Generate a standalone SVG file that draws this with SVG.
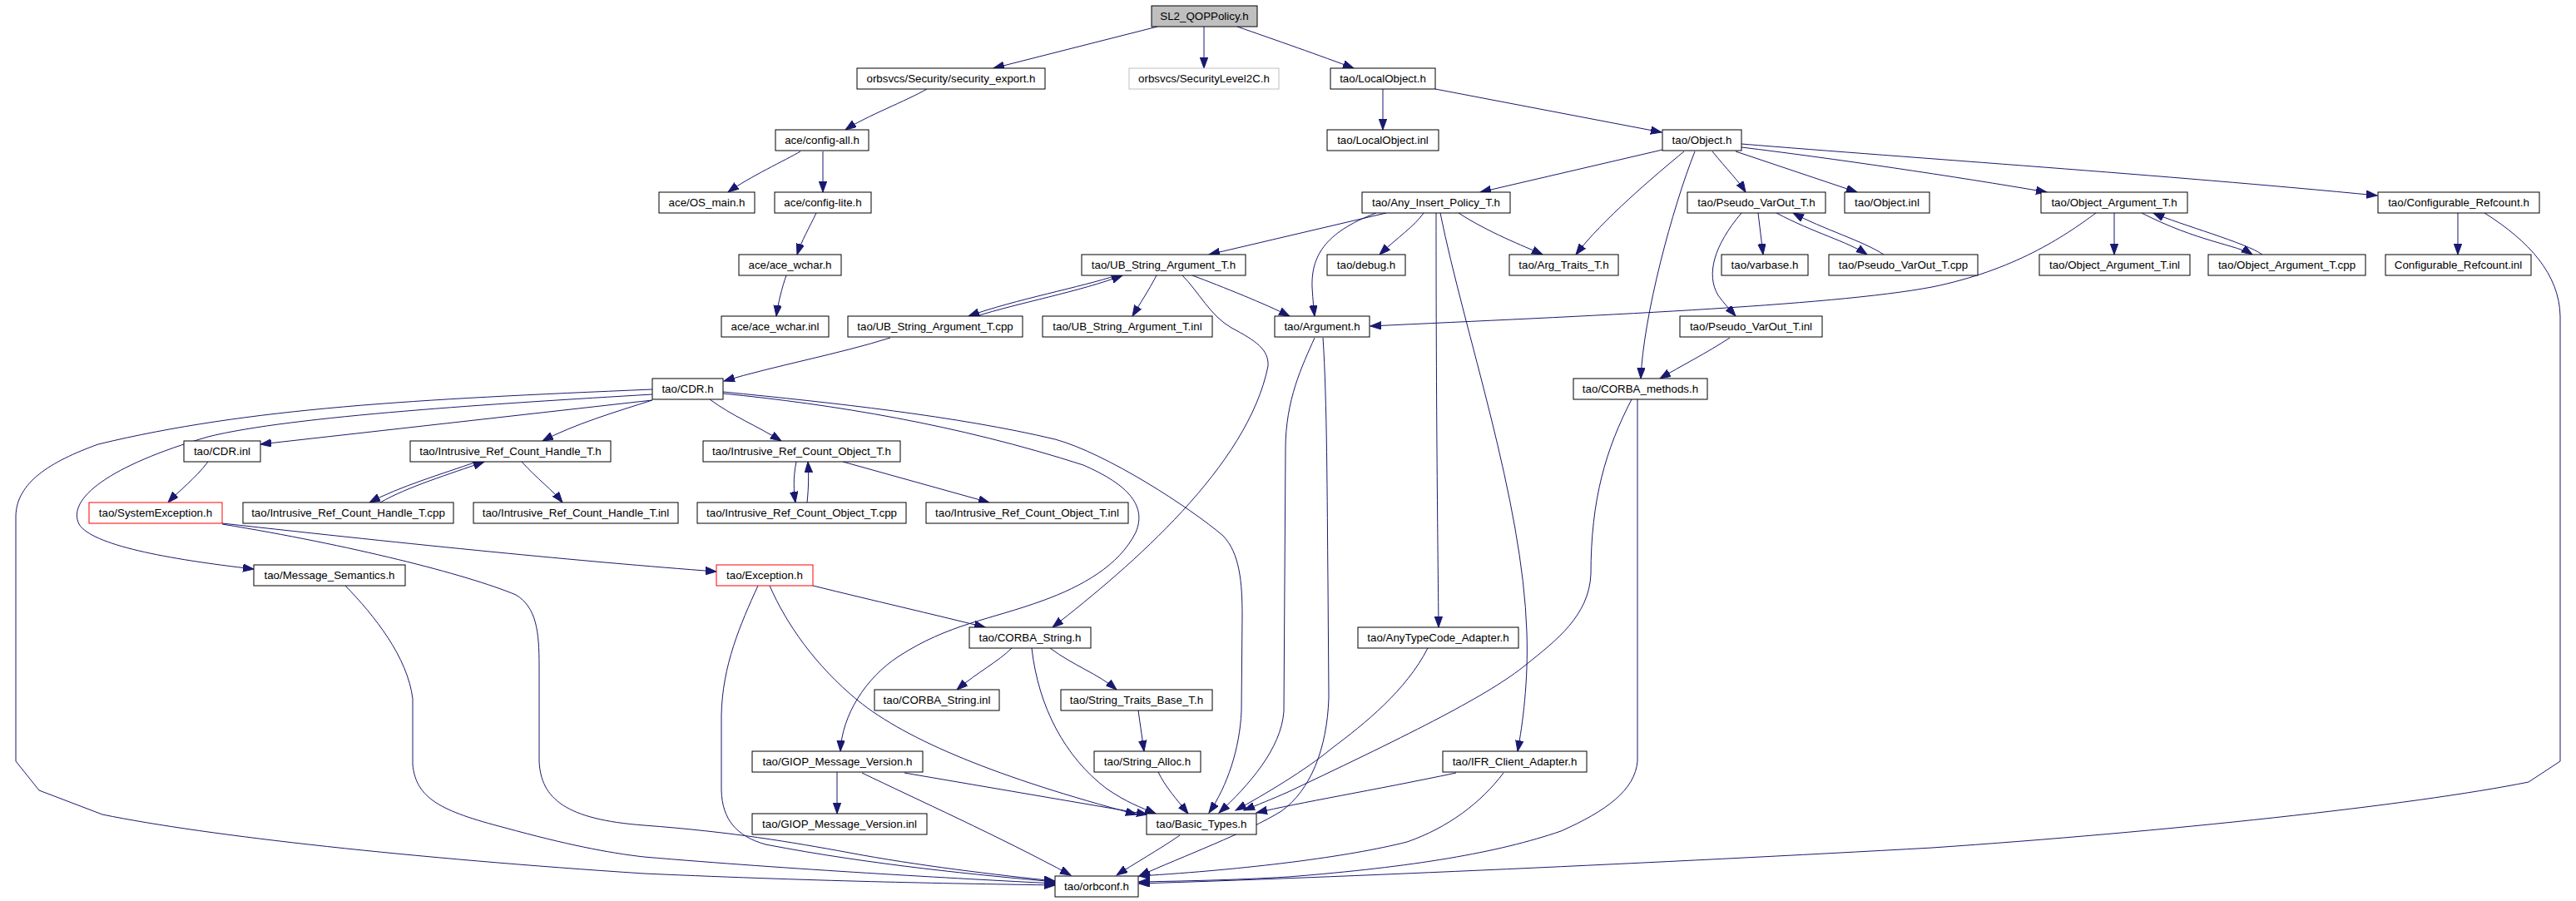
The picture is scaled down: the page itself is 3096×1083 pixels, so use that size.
<svg xmlns="http://www.w3.org/2000/svg" width="3096" height="1083" viewBox="0 0 3096 1083">
<style>
.n rect{fill:#ffffff;stroke:#000000;stroke-width:1}
.n text{font-family:"Liberation Sans",Arial,sans-serif;font-size:13.33px;fill:#000000;text-anchor:middle}
.e path{fill:none;stroke:#191970;stroke-width:1;marker-end:url(#a)}
</style>
<defs>
<marker id="a" markerUnits="userSpaceOnUse" markerWidth="14" markerHeight="10" refX="13" refY="4.7" orient="auto">
<path d="M0,0 L13,4.7 L0,9.4 Z" fill="#191970" stroke="#191970" stroke-width="1"/>
</marker>
</defs>
<rect width="3096" height="1083" fill="#ffffff"/>
<g id="edges" class="e">
<path d="M1391,32 L1194,82"/>
<path d="M1447,32 L1447,82"/>
<path d="M1487,32 C1530,47 1590,68 1627,82"/>
<path d="M1114,107 C1090,121 1040,140 1016,156"/>
<path d="M962,182 C945,192 900,213 875,231"/>
<path d="M989,182 L989,231"/>
<path d="M981,256 C973,273 963,290 958,306"/>
<path d="M945,331 C940,345 935,365 933,380"/>
<path d="M1662,107 L1662,156"/>
<path d="M1725,107 L1997,159"/>
<path d="M1998,180 L1779,231"/>
<path d="M2024,182 C1990,210 1925,265 1894,306"/>
<path d="M2037,182 C2010,250 1975,380 1972,455"/>
<path d="M2058,182 C2075,203 2090,218 2098,231"/>
<path d="M2086,182 L2232,231"/>
<path d="M2093,177 C2200,190 2350,212 2460,231"/>
<path d="M2093,173 C2300,190 2600,210 2857,235"/>
<path d="M1666,256 L1453,306"/>
<path d="M1711,256 C1700,272 1680,285 1658,306"/>
<path d="M1753,256 C1790,280 1830,295 1854,306"/>
<path d="M1654,256 C1590,280 1576,310 1577,345 C1578,362 1579,372 1580,380"/>
<path d="M1726,256 C1726,500 1728,650 1729,754"/>
<path d="M1731,256 C1760,400 1830,600 1835,760 C1837,820 1830,870 1824,903"/>
<path d="M2113,256 L2119,306"/>
<path d="M2135,256 C2180,280 2220,290 2244,306"/>
<path d="M2264,306 C2240,290 2190,275 2155,256"/>
<path d="M2093,256 C2060,295 2050,330 2065,355 C2073,366 2080,373 2086,380"/>
<path d="M2541,256 L2541,306"/>
<path d="M2574,256 C2640,290 2690,295 2707,306"/>
<path d="M2719,306 C2700,292 2620,270 2588,256"/>
<path d="M2519,256 C2480,285 2420,325 2322,345 C2200,368 1900,380 1647,392"/>
<path d="M2954,256 L2954,306"/>
<path d="M2986,256 C3040,290 3076,330 3077,380 L3077,915 L3039,940 C2900,968 2600,1000 2322,1019 C2000,1037 1600,1055 1369,1062"/>
<path d="M1342,331 C1300,345 1220,360 1164,380"/>
<path d="M1174,380 C1220,365 1300,350 1349,331"/>
<path d="M1390,331 C1380,350 1370,365 1361,380"/>
<path d="M1433,331 C1470,345 1520,365 1550,380"/>
<path d="M1421,331 C1440,350 1455,380 1480,394 C1510,410 1525,420 1524,440 C1500,560 1360,680 1265,754"/>
<path d="M1070,406 C1010,425 930,440 870,458"/>
<path d="M2079,406 C2050,425 2020,440 1995,455"/>
<path d="M784,481 L313,534"/>
<path d="M784,481 C740,495 690,510 652,530"/>
<path d="M853,480 C880,500 910,512 939,530"/>
<path d="M784,474 C600,485 350,500 250,525 C130,560 80,600 95,630 C110,655 200,672 305,684"/>
<path d="M784,468 C500,480 300,490 118,534 C60,555 20,580 19,620 L19,915 L47,950 L123,979 C250,1005 500,1032 774,1050 C1000,1060 1150,1062 1268,1064"/>
<path d="M869,471 C1000,484 1150,500 1268,528 C1330,545 1430,610 1470,644 C1490,665 1493,700 1493,740 L1492,855 C1490,900 1475,945 1453,977"/>
<path d="M869,473 C1000,486 1150,510 1302,559 C1350,580 1380,605 1365,640 C1345,680 1300,705 1253,722 C1190,745 1140,750 1080,789 C1040,815 1012,860 1010,903"/>
<path d="M250,555 C235,575 215,590 202,604"/>
<path d="M573,555 C530,570 480,585 444,604"/>
<path d="M457,604 C490,585 540,570 582,555"/>
<path d="M627,555 C645,575 665,590 676,604"/>
<path d="M957,555 C953,575 954,590 956,604"/>
<path d="M970,604 C972,585 972,570 971,555"/>
<path d="M1013,555 L1189,604"/>
<path d="M267,629 C500,655 700,675 861,687"/>
<path d="M267,630 C420,655 560,690 620,715 C645,730 648,760 648,800 L648,915 C650,960 680,985 774,992 C880,1000 950,1012 1021,1025 C1100,1040 1200,1052 1268,1059"/>
<path d="M415,704 C450,740 490,790 496,840 L496,919 C500,960 530,975 607,995 C680,1015 730,1025 774,1030 C950,1045 1150,1056 1268,1062"/>
<path d="M911,704 C890,750 868,800 867,860 L867,950 C868,985 885,1005 920,1015 C1050,1040 1180,1052 1268,1060"/>
<path d="M925,704 C945,750 980,800 1031,842 C1090,890 1200,935 1366,979"/>
<path d="M977,704 C1050,722 1120,738 1184,754"/>
<path d="M1216,779 C1200,795 1175,808 1150,829"/>
<path d="M1262,779 C1290,800 1320,810 1342,829"/>
<path d="M1240,779 C1248,850 1280,910 1330,948 C1355,965 1370,970 1389,978"/>
<path d="M1368,854 L1375,903"/>
<path d="M1392,928 C1400,945 1415,962 1428,978"/>
<path d="M1006,928 L1006,978"/>
<path d="M1087,929 L1379,979"/>
<path d="M1036,929 C1100,960 1200,1005 1287,1052"/>
<path d="M1418,1004 C1395,1020 1360,1040 1342,1052"/>
<path d="M1580,406 C1565,440 1545,480 1545,540 L1543,855 C1540,900 1500,945 1465,977"/>
<path d="M1590,406 C1595,480 1595,600 1596,700 L1597,839 C1595,900 1575,950 1540,975 C1500,1000 1420,1030 1369,1053"/>
<path d="M1961,480 C1930,540 1912,600 1912,690 C1910,740 1870,770 1834,799 C1790,835 1700,880 1548,952 C1530,960 1510,968 1495,974"/>
<path d="M1968,480 L1968,915 C1965,950 1930,975 1876,999 C1800,1025 1700,1042 1548,1054 C1480,1058 1420,1059 1369,1060"/>
<path d="M1716,779 C1690,830 1640,870 1600,900 C1570,925 1520,955 1485,974"/>
<path d="M1750,929 C1650,950 1560,965 1510,977"/>
<path d="M1807,929 C1780,965 1740,995 1691,1012 C1620,1030 1500,1045 1369,1053"/>
</g>
<g id="n1" class="n"><rect x="1384" y="7" width="127" height="25" style="fill:#bfbfbf"/><text x="1447.5" y="24">SL2_QOPPolicy.h</text></g>
<g id="n2" class="n"><rect x="1030" y="82" width="226" height="25"/><text x="1143" y="99">orbsvcs/Security/security_export.h</text></g>
<g id="n3" class="n"><rect x="1357" y="82" width="180" height="25" style="stroke:#bfbfbf"/><text x="1447" y="99">orbsvcs/SecurityLevel2C.h</text></g>
<g id="n4" class="n"><rect x="1599" y="82" width="126" height="25"/><text x="1662" y="99">tao/LocalObject.h</text></g>
<g id="n5" class="n"><rect x="932" y="156" width="112" height="25"/><text x="988" y="173">ace/config-all.h</text></g>
<g id="n6" class="n"><rect x="1595" y="156" width="134" height="25"/><text x="1662" y="173">tao/LocalObject.inl</text></g>
<g id="n7" class="n"><rect x="1998" y="156" width="95" height="25"/><text x="2045.5" y="173">tao/Object.h</text></g>
<g id="n8" class="n"><rect x="792" y="231" width="115" height="25"/><text x="849.5" y="248">ace/OS_main.h</text></g>
<g id="n9" class="n"><rect x="931" y="231" width="116" height="25"/><text x="989" y="248">ace/config-lite.h</text></g>
<g id="n10" class="n"><rect x="1637" y="231" width="178" height="25"/><text x="1726" y="248">tao/Any_Insert_Policy_T.h</text></g>
<g id="n11" class="n"><rect x="2028" y="231" width="166" height="25"/><text x="2111" y="248">tao/Pseudo_VarOut_T.h</text></g>
<g id="n12" class="n"><rect x="2217" y="231" width="102" height="25"/><text x="2268" y="248">tao/Object.inl</text></g>
<g id="n13" class="n"><rect x="2453" y="231" width="176" height="25"/><text x="2541" y="248">tao/Object_Argument_T.h</text></g>
<g id="n14" class="n"><rect x="2858" y="231" width="194" height="25"/><text x="2955" y="248">tao/Configurable_Refcount.h</text></g>
<g id="n15" class="n"><rect x="888" y="306" width="123" height="25"/><text x="949.5" y="323">ace/ace_wchar.h</text></g>
<g id="n16" class="n"><rect x="1300" y="306" width="197" height="25"/><text x="1398.5" y="323">tao/UB_String_Argument_T.h</text></g>
<g id="n17" class="n"><rect x="1595" y="306" width="94" height="25"/><text x="1642" y="323">tao/debug.h</text></g>
<g id="n18" class="n"><rect x="1814" y="306" width="131" height="25"/><text x="1879.5" y="323">tao/Arg_Traits_T.h</text></g>
<g id="n19" class="n"><rect x="2069" y="306" width="104" height="25"/><text x="2121" y="323">tao/varbase.h</text></g>
<g id="n20" class="n"><rect x="2198" y="306" width="179" height="25"/><text x="2287.5" y="323">tao/Pseudo_VarOut_T.cpp</text></g>
<g id="n21" class="n"><rect x="2451" y="306" width="181" height="25"/><text x="2541.5" y="323">tao/Object_Argument_T.inl</text></g>
<g id="n22" class="n"><rect x="2654" y="306" width="189" height="25"/><text x="2748.5" y="323">tao/Object_Argument_T.cpp</text></g>
<g id="n23" class="n"><rect x="2867" y="306" width="175" height="25"/><text x="2954.5" y="323">Configurable_Refcount.inl</text></g>
<g id="n24" class="n"><rect x="867" y="380" width="129" height="25"/><text x="931.5" y="397">ace/ace_wchar.inl</text></g>
<g id="n25" class="n"><rect x="1019" y="380" width="210" height="25"/><text x="1124" y="397">tao/UB_String_Argument_T.cpp</text></g>
<g id="n26" class="n"><rect x="1253" y="380" width="204" height="25"/><text x="1355" y="397">tao/UB_String_Argument_T.inl</text></g>
<g id="n27" class="n"><rect x="1532" y="380" width="114" height="25"/><text x="1589" y="397">tao/Argument.h</text></g>
<g id="n28" class="n"><rect x="2019" y="380" width="171" height="25"/><text x="2104.5" y="397">tao/Pseudo_VarOut_T.inl</text></g>
<g id="n29" class="n"><rect x="784" y="455" width="85" height="25"/><text x="826.5" y="472">tao/CDR.h</text></g>
<g id="n30" class="n"><rect x="1891" y="455" width="161" height="25"/><text x="1971.5" y="472">tao/CORBA_methods.h</text></g>
<g id="n31" class="n"><rect x="221" y="530" width="92" height="25"/><text x="267" y="547">tao/CDR.inl</text></g>
<g id="n32" class="n"><rect x="493" y="530" width="241" height="25"/><text x="613.5" y="547">tao/Intrusive_Ref_Count_Handle_T.h</text></g>
<g id="n33" class="n"><rect x="845" y="530" width="237" height="25"/><text x="963.5" y="547">tao/Intrusive_Ref_Count_Object_T.h</text></g>
<g id="n34" class="n"><rect x="107" y="604" width="160" height="25" style="stroke:#ff0000"/><text x="187" y="621">tao/SystemException.h</text></g>
<g id="n35" class="n"><rect x="292" y="604" width="253" height="25"/><text x="418.5" y="621">tao/Intrusive_Ref_Count_Handle_T.cpp</text></g>
<g id="n36" class="n"><rect x="569" y="604" width="246" height="25"/><text x="692" y="621">tao/Intrusive_Ref_Count_Handle_T.inl</text></g>
<g id="n37" class="n"><rect x="838" y="604" width="251" height="25"/><text x="963.5" y="621">tao/Intrusive_Ref_Count_Object_T.cpp</text></g>
<g id="n38" class="n"><rect x="1113" y="604" width="243" height="25"/><text x="1234.5" y="621">tao/Intrusive_Ref_Count_Object_T.inl</text></g>
<g id="n39" class="n"><rect x="305" y="679" width="182" height="25"/><text x="396" y="696">tao/Message_Semantics.h</text></g>
<g id="n40" class="n"><rect x="861" y="679" width="116" height="25" style="stroke:#ff0000"/><text x="919" y="696">tao/Exception.h</text></g>
<g id="n41" class="n"><rect x="1165" y="754" width="146" height="25"/><text x="1238" y="771">tao/CORBA_String.h</text></g>
<g id="n42" class="n"><rect x="1632" y="754" width="193" height="25"/><text x="1728.5" y="771">tao/AnyTypeCode_Adapter.h</text></g>
<g id="n43" class="n"><rect x="1051" y="829" width="150" height="25"/><text x="1126" y="846">tao/CORBA_String.inl</text></g>
<g id="n44" class="n"><rect x="1275" y="829" width="182" height="25"/><text x="1366" y="846">tao/String_Traits_Base_T.h</text></g>
<g id="n45" class="n"><rect x="904" y="903" width="205" height="25"/><text x="1006.5" y="920">tao/GIOP_Message_Version.h</text></g>
<g id="n46" class="n"><rect x="1315" y="903" width="128" height="25"/><text x="1379" y="920">tao/String_Alloc.h</text></g>
<g id="n47" class="n"><rect x="1734" y="903" width="173" height="25"/><text x="1820.5" y="920">tao/IFR_Client_Adapter.h</text></g>
<g id="n48" class="n"><rect x="904" y="978" width="210" height="25"/><text x="1009" y="995">tao/GIOP_Message_Version.inl</text></g>
<g id="n49" class="n"><rect x="1378" y="978" width="132" height="25"/><text x="1444" y="995">tao/Basic_Types.h</text></g>
<g id="n50" class="n"><rect x="1268" y="1053" width="100" height="25"/><text x="1318" y="1070">tao/orbconf.h</text></g>
</svg>
